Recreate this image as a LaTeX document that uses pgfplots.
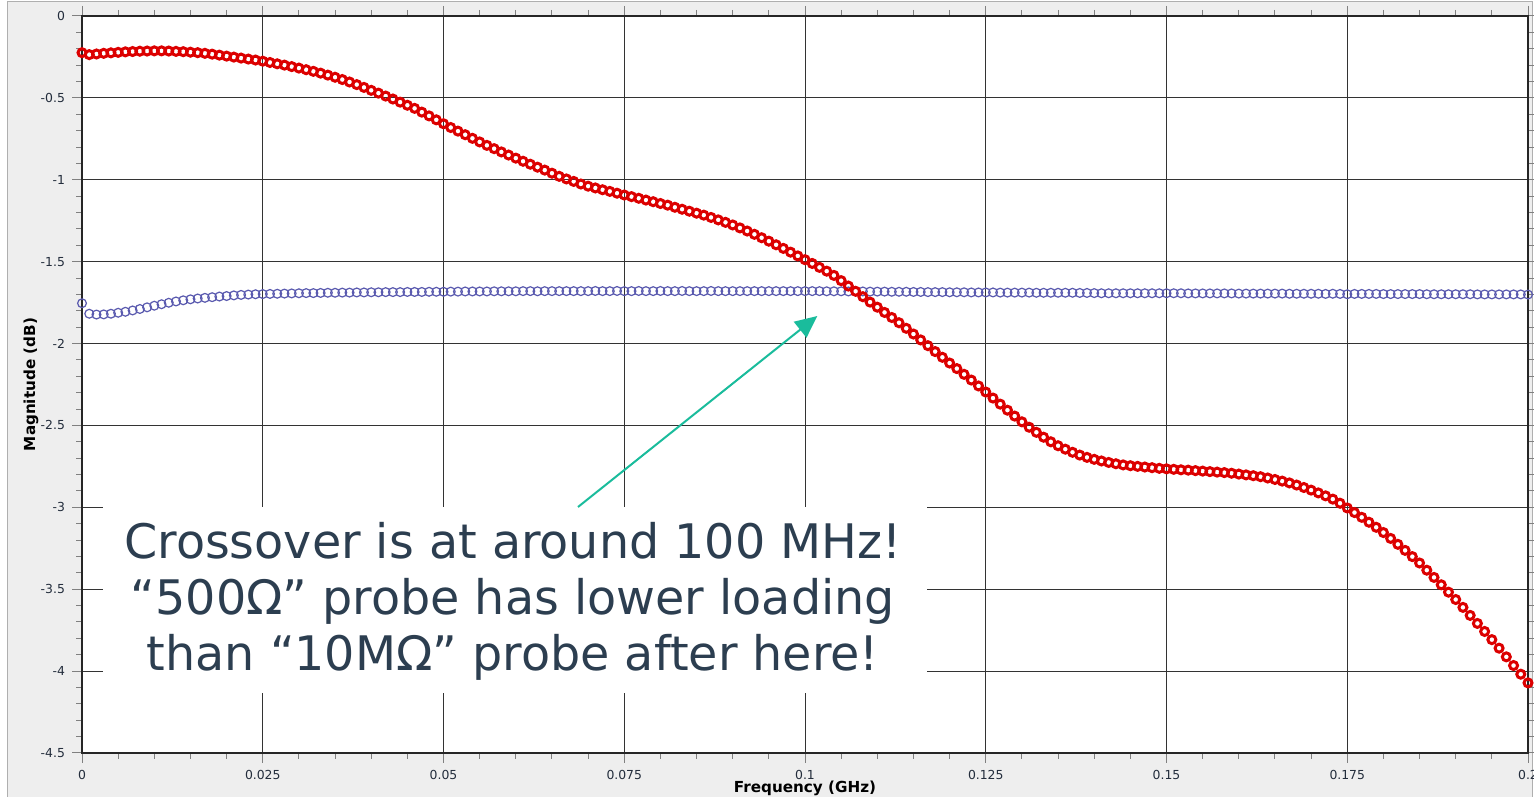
\documentclass[border=0pt]{standalone}
\usepackage{fontspec}
\setmainfont{DejaVu Sans}
\usepackage{pgfplots}
\pgfplotsset{compat=1.18}
\usetikzlibrary{arrows.meta,backgrounds}

\definecolor{panelgrey}{RGB}{238,238,238}
\definecolor{framegrey}{RGB}{175,175,175}
\definecolor{redcurve}{RGB}{220,0,0}
\definecolor{bluecurve}{RGB}{90,90,175}
\definecolor{arrowteal}{RGB}{26,188,156}
\definecolor{calltext}{RGB}{44,62,80}
\definecolor{ticktext}{RGB}{35,45,60}

\begin{document}
\begin{tikzpicture}
\begin{axis}[
    scale only axis,
    width=723pt, height=368.5pt,
    xmin=0, xmax=0.2, ymin=-4.5, ymax=0,
    xtick={0,0.025,0.05,0.075,0.1,0.125,0.15,0.175,0.2},
    xticklabels={0,0.025,0.05,0.075,0.1,0.125,0.15,0.175,0.2},
    ytick={-4.5,-4,-3.5,-3,-2.5,-2,-1.5,-1,-0.5,0},
    yticklabels={-4.5,-4,-3.5,-3,-2.5,-2,-1.5,-1,-0.5,0},
    minor x tick num=4, minor y tick num=4,
    tick align=outside,
    major tick length=5pt, minor tick length=3pt,
    every tick/.style={black!50, line width=0.5pt},
    grid=major,
    major grid style={black!80, line width=0.5pt},
    axis line style={black!85, line width=1pt},
    axis background/.style={fill=white},
    tick label style={font=\fontsize{6.2}{7}\selectfont, text=ticktext},
    xlabel={Frequency (GHz)}, ylabel={Magnitude (dB)},
    label style={font=\bfseries\fontsize{7.6}{9}\selectfont},
    xlabel style={at={(axis description cs:0.5,-0.0475)}, anchor=center},
    ylabel style={at={(axis description cs:-0.0353,0.5)}, anchor=center},
]
% "500 ohm" probe
\addplot[only marks, mark=o, mark size=2.2pt, bluecurve, mark options={line width=0.6pt}] coordinates {
(0.000,-1.754) (0.001,-1.818) (0.002,-1.823) (0.003,-1.822) (0.004,-1.818)
(0.005,-1.812) (0.006,-1.806) (0.007,-1.798) (0.008,-1.789) (0.009,-1.779)
(0.010,-1.769) (0.011,-1.760) (0.012,-1.751) (0.013,-1.743) (0.014,-1.736)
(0.015,-1.730) (0.016,-1.725) (0.017,-1.721) (0.018,-1.717) (0.019,-1.713)
(0.020,-1.710) (0.021,-1.706) (0.022,-1.703) (0.023,-1.701) (0.024,-1.699)
(0.025,-1.698) (0.026,-1.697) (0.027,-1.696) (0.028,-1.695) (0.029,-1.694)
(0.030,-1.693) (0.031,-1.692) (0.032,-1.692) (0.033,-1.691) (0.034,-1.690)
(0.035,-1.690) (0.036,-1.689) (0.037,-1.689) (0.038,-1.688) (0.039,-1.688)
(0.040,-1.687) (0.041,-1.687) (0.042,-1.686) (0.043,-1.686) (0.044,-1.686)
(0.045,-1.685) (0.046,-1.685) (0.047,-1.685) (0.048,-1.684) (0.049,-1.684)
(0.050,-1.684) (0.051,-1.683) (0.052,-1.683) (0.053,-1.682) (0.054,-1.682)
(0.055,-1.682) (0.056,-1.682) (0.057,-1.681) (0.058,-1.681) (0.059,-1.681)
(0.060,-1.681) (0.061,-1.680) (0.062,-1.680) (0.063,-1.681) (0.064,-1.680)
(0.065,-1.680) (0.066,-1.680) (0.067,-1.680) (0.068,-1.680) (0.069,-1.680)
(0.070,-1.680) (0.071,-1.679) (0.072,-1.680) (0.073,-1.680) (0.074,-1.679)
(0.075,-1.680) (0.076,-1.680) (0.077,-1.679) (0.078,-1.680) (0.079,-1.680)
(0.080,-1.679) (0.081,-1.680) (0.082,-1.680) (0.083,-1.679) (0.084,-1.680)
(0.085,-1.680) (0.086,-1.680) (0.087,-1.679) (0.088,-1.680) (0.089,-1.680)
(0.090,-1.680) (0.091,-1.680) (0.092,-1.680) (0.093,-1.680) (0.094,-1.680)
(0.095,-1.680) (0.096,-1.680) (0.097,-1.680) (0.098,-1.680) (0.099,-1.680)
(0.100,-1.680) (0.101,-1.680) (0.102,-1.680) (0.103,-1.681) (0.104,-1.681)
(0.105,-1.681) (0.106,-1.682) (0.107,-1.682) (0.108,-1.682) (0.109,-1.683)
(0.110,-1.683) (0.111,-1.683) (0.112,-1.684) (0.113,-1.684) (0.114,-1.684)
(0.115,-1.685) (0.116,-1.685) (0.117,-1.686) (0.118,-1.686) (0.119,-1.686)
(0.120,-1.687) (0.121,-1.687) (0.122,-1.687) (0.123,-1.688) (0.124,-1.688)
(0.125,-1.688) (0.126,-1.688) (0.127,-1.689) (0.128,-1.689) (0.129,-1.689)
(0.130,-1.689) (0.131,-1.689) (0.132,-1.690) (0.133,-1.690) (0.134,-1.690)
(0.135,-1.690) (0.136,-1.690) (0.137,-1.690) (0.138,-1.691) (0.139,-1.691)
(0.140,-1.692) (0.141,-1.693) (0.142,-1.693) (0.143,-1.693) (0.144,-1.693)
(0.145,-1.693) (0.146,-1.693) (0.147,-1.693) (0.148,-1.693) (0.149,-1.693)
(0.150,-1.693) (0.151,-1.693) (0.152,-1.693) (0.153,-1.694) (0.154,-1.694)
(0.155,-1.694) (0.156,-1.694) (0.157,-1.694) (0.158,-1.694) (0.159,-1.694)
(0.160,-1.695) (0.161,-1.695) (0.162,-1.695) (0.163,-1.695) (0.164,-1.695)
(0.165,-1.695) (0.166,-1.695) (0.167,-1.696) (0.168,-1.696) (0.169,-1.696)
(0.170,-1.696) (0.171,-1.696) (0.172,-1.697) (0.173,-1.696) (0.174,-1.697)
(0.175,-1.699) (0.176,-1.697) (0.177,-1.697) (0.178,-1.697) (0.179,-1.697)
(0.180,-1.698) (0.181,-1.698) (0.182,-1.698) (0.183,-1.698) (0.184,-1.698)
(0.185,-1.698) (0.186,-1.699) (0.187,-1.699) (0.188,-1.699) (0.189,-1.699)
(0.190,-1.699) (0.191,-1.699) (0.192,-1.699) (0.193,-1.700) (0.194,-1.700)
(0.195,-1.700) (0.196,-1.700) (0.197,-1.700) (0.198,-1.700) (0.199,-1.700)
(0.200,-1.701)
};
% "10 Mohm" probe
\addplot[only marks, mark=o, mark size=2pt, redcurve, mark options={line width=1.5pt}] coordinates {
(0.000,-0.224) (0.001,-0.236) (0.002,-0.232) (0.003,-0.228) (0.004,-0.225)
(0.005,-0.222) (0.006,-0.219) (0.007,-0.217) (0.008,-0.215) (0.009,-0.214)
(0.010,-0.213) (0.011,-0.213) (0.012,-0.214) (0.013,-0.216) (0.014,-0.218)
(0.015,-0.221) (0.016,-0.224) (0.017,-0.228) (0.018,-0.233) (0.019,-0.239)
(0.020,-0.245) (0.021,-0.251) (0.022,-0.257) (0.023,-0.263) (0.024,-0.269)
(0.025,-0.276) (0.026,-0.284) (0.027,-0.292) (0.028,-0.300) (0.029,-0.309)
(0.030,-0.318) (0.031,-0.328) (0.032,-0.338) (0.033,-0.349) (0.034,-0.361)
(0.035,-0.374) (0.036,-0.388) (0.037,-0.403) (0.038,-0.419) (0.039,-0.436)
(0.040,-0.454) (0.041,-0.471) (0.042,-0.489) (0.043,-0.507) (0.044,-0.526)
(0.045,-0.545) (0.046,-0.564) (0.047,-0.587) (0.048,-0.610) (0.049,-0.634)
(0.050,-0.658) (0.051,-0.681) (0.052,-0.703) (0.053,-0.725) (0.054,-0.747)
(0.055,-0.769) (0.056,-0.790) (0.057,-0.810) (0.058,-0.830) (0.059,-0.849)
(0.060,-0.868) (0.061,-0.887) (0.062,-0.905) (0.063,-0.923) (0.064,-0.941)
(0.065,-0.960) (0.066,-0.979) (0.067,-0.995) (0.068,-1.010) (0.069,-1.026)
(0.070,-1.039) (0.071,-1.050) (0.072,-1.061) (0.073,-1.071) (0.074,-1.082)
(0.075,-1.093) (0.076,-1.103) (0.077,-1.113) (0.078,-1.124) (0.079,-1.134)
(0.080,-1.145) (0.081,-1.155) (0.082,-1.168) (0.083,-1.180) (0.084,-1.192)
(0.085,-1.204) (0.086,-1.216) (0.087,-1.230) (0.088,-1.245) (0.089,-1.260)
(0.090,-1.276) (0.091,-1.294) (0.092,-1.313) (0.093,-1.333) (0.094,-1.354)
(0.095,-1.375) (0.096,-1.397) (0.097,-1.419) (0.098,-1.442) (0.099,-1.465)
(0.100,-1.488) (0.101,-1.511) (0.102,-1.535) (0.103,-1.558) (0.104,-1.584)
(0.105,-1.616) (0.106,-1.649) (0.107,-1.681) (0.108,-1.714) (0.109,-1.747)
(0.110,-1.778) (0.111,-1.810) (0.112,-1.841) (0.113,-1.873) (0.114,-1.907)
(0.115,-1.942) (0.116,-1.978) (0.117,-2.013) (0.118,-2.049) (0.119,-2.084)
(0.120,-2.119) (0.121,-2.153) (0.122,-2.188) (0.123,-2.223) (0.124,-2.259)
(0.125,-2.296) (0.126,-2.333) (0.127,-2.370) (0.128,-2.407) (0.129,-2.443)
(0.130,-2.478) (0.131,-2.511) (0.132,-2.542) (0.133,-2.572) (0.134,-2.600)
(0.135,-2.624) (0.136,-2.645) (0.137,-2.664) (0.138,-2.681) (0.139,-2.695)
(0.140,-2.707) (0.141,-2.717) (0.142,-2.726) (0.143,-2.734) (0.144,-2.741)
(0.145,-2.746) (0.146,-2.750) (0.147,-2.754) (0.148,-2.758) (0.149,-2.762)
(0.150,-2.765) (0.151,-2.768) (0.152,-2.771) (0.153,-2.773) (0.154,-2.776)
(0.155,-2.779) (0.156,-2.782) (0.157,-2.785) (0.158,-2.788) (0.159,-2.792)
(0.160,-2.797) (0.161,-2.802) (0.162,-2.807) (0.163,-2.813) (0.164,-2.821)
(0.165,-2.830) (0.166,-2.840) (0.167,-2.851) (0.168,-2.864) (0.169,-2.879)
(0.170,-2.895) (0.171,-2.912) (0.172,-2.930) (0.173,-2.950) (0.174,-2.975)
(0.175,-3.004) (0.176,-3.032) (0.177,-3.061) (0.178,-3.091) (0.179,-3.122)
(0.180,-3.154) (0.181,-3.190) (0.182,-3.226) (0.183,-3.263) (0.184,-3.301)
(0.185,-3.340) (0.186,-3.384) (0.187,-3.428) (0.188,-3.473) (0.189,-3.518)
(0.190,-3.563) (0.191,-3.611) (0.192,-3.660) (0.193,-3.709) (0.194,-3.758)
(0.195,-3.808) (0.196,-3.860) (0.197,-3.913) (0.198,-3.966) (0.199,-4.019)
(0.200,-4.072)
};

% callout
\fill[white] (axis cs:0.0029,-2.998) rectangle (axis cs:0.1169,-4.134);
\draw[arrowteal, line width=1pt, -{Triangle[length=11pt,width=10pt]}]
  (axis cs:0.0686,-2.998) -- (axis cs:0.1017,-1.832);
\node[align=center, text=calltext, font=\fontsize{23.8}{28}\selectfont]
  at (axis cs:0.0596,-3.572)
  {Crossover is at around 100 MHz!\\“500Ω” probe has lower loading\\than “10MΩ” probe after here!};

% page and panel corners
\coordinate (imgSW) at (rel axis cs:-0.05671,-0.05970);
\coordinate (imgNE) at (rel axis cs:1.00415,1.02171);
\coordinate (panSW) at (rel axis cs:-0.05187,-0.05970);
\coordinate (panNE) at (rel axis cs:1.00277,1.01900);
\end{axis}

\begin{scope}[on background layer]
\fill[white] (imgSW) rectangle (imgNE);
\fill[panelgrey] (panSW) rectangle (panNE);
\draw[framegrey, line width=0.5pt] (panSW) -- (panSW |- panNE) -- (panNE) -- (panNE |- panSW);
\end{scope}
\pgfresetboundingbox
\useasboundingbox (imgSW) rectangle (imgNE);
\end{tikzpicture}
\end{document}
